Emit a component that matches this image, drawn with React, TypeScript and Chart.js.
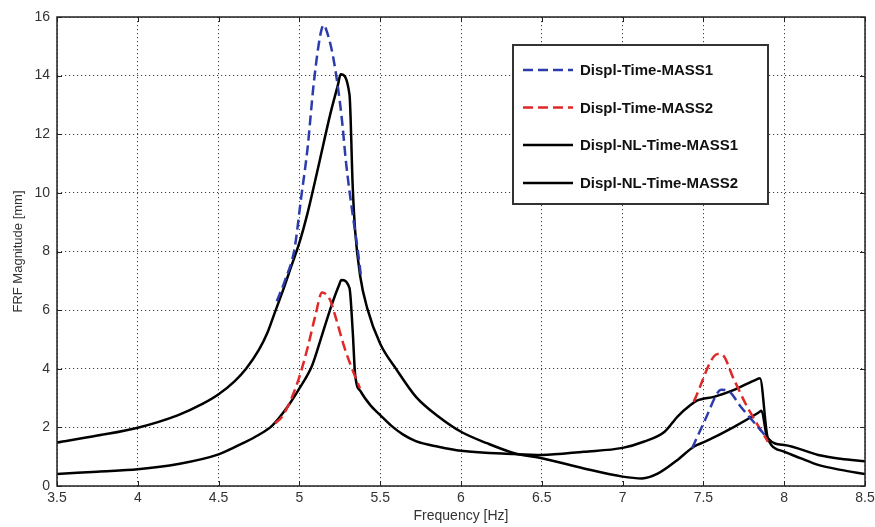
import React, { useEffect, useRef } from 'react';
import { Chart, registerables } from 'chart.js';

Chart.register(...registerables);

// ---- Data ----
const seriesLabels = [
  'Displ-Time-MASS1',
  'Displ-Time-MASS2',
  'Displ-NL-Time-MASS1',
  'Displ-NL-Time-MASS2',
];

// Linear (time) response, mass 1 — only where it departs from the NL curves
const timeMass1Freq = [4.86, 4.91, 4.97, 5.01, 5.05, 5.09, 5.13, 5.15, 5.17, 5.21, 5.26, 5.29, 5.33, 5.36, 5.38, 6.5, 7.43, 7.51, 7.59, 7.61, 7.66, 7.73, 7.81, 7.88];
const timeMass1Mag = [6.3, 7.0, 8.1, 9.8, 11.5, 13.8, 15.4, 15.73, 15.5, 14.6, 12.66, 10.96, 9.25, 8.1, 7.2, null, 1.29, 2.25, 3.2, 3.28, 3.22, 2.71, 2.19, 1.74];

// Linear (time) response, mass 2
const timeMass2Freq = [4.85, 4.9, 4.99, 5.05, 5.1, 5.14, 5.19, 5.22, 5.28, 5.34, 5.375, 6.5, 7.44, 7.59, 7.61, 7.69, 7.77, 7.83, 7.9];
const timeMass2Mag = [2.14, 2.42, 3.56, 4.7, 5.84, 6.6, 6.35, 5.84, 4.7, 3.8, 3.33, null, 2.88, 4.5, 4.5, 3.62, 2.71, 2.14, 1.51];

// Nonlinear response, mass 1
const nlMass1Freq = [3.5, 3.75, 4.0, 4.25, 4.4, 4.5, 4.6, 4.67, 4.75, 4.8, 4.85, 4.9, 4.95, 5.0, 5.05, 5.12, 5.19, 5.24, 5.255, 5.31, 5.33, 5.345, 5.375, 5.42, 5.5, 5.6, 5.72, 5.86, 6.0, 6.16, 6.33, 6.5, 6.76, 7.0, 7.12, 7.22, 7.34, 7.44, 7.51, 7.69, 7.84, 7.86, 7.89, 7.92, 8.0, 8.1, 8.21, 8.35, 8.5];
const nlMass1Mag = [1.48, 1.72, 1.99, 2.42, 2.8, 3.13, 3.58, 4.0, 4.65, 5.2, 5.95, 6.7, 7.5, 8.3, 9.3, 10.96, 12.66, 13.72, 14.05, 13.35, 10.2, 8.7, 7.2, 6.06, 4.85, 3.98, 3.05, 2.37, 1.85, 1.46, 1.12, 0.95, 0.6, 0.32, 0.26, 0.43, 0.89, 1.34, 1.51, 2.02, 2.5, 2.57, 1.74, 1.4, 1.17, 0.95, 0.72, 0.55, 0.41];

// Nonlinear response, mass 2
const nlMass2Freq = [3.5, 3.75, 4.0, 4.25, 4.5, 4.65, 4.75, 4.83, 4.92, 5.0, 5.08, 5.14, 5.2, 5.245, 5.26, 5.31, 5.33, 5.345, 5.38, 5.44, 5.5, 5.57, 5.64, 5.72, 5.86, 6.0, 6.33, 6.5, 6.76, 7.0, 7.13, 7.26, 7.34, 7.42, 7.46, 7.57, 7.69, 7.83, 7.85, 7.9, 8.0, 8.21, 8.35, 8.5];
const nlMass2Mag = [0.41, 0.49, 0.57, 0.75, 1.08, 1.46, 1.75, 2.05, 2.65, 3.33, 4.13, 5.15, 6.18, 6.85, 7.03, 6.75, 5.27, 3.79, 3.22, 2.75, 2.42, 2.05, 1.76, 1.53, 1.34, 1.2, 1.09, 1.06, 1.17, 1.3, 1.51, 1.85, 2.37, 2.76, 2.91, 3.05, 3.28, 3.64, 3.68, 1.63, 1.4, 1.06, 0.93, 0.84];

const xTickValues = [3.5, 4, 4.5, 5, 5.5, 6, 6.5, 7, 7.5, 8, 8.5];
const xTickLabels = ['3.5', '4', '4.5', '5', '5.5', '6', '6.5', '7', '7.5', '8', '8.5'];
const yTickValues = [0, 2, 4, 6, 8, 10, 12, 14, 16];
const yTickLabels = ['0', '2', '4', '6', '8', '10', '12', '14', '16'];

const xTitle = 'Frequency [Hz]';
const yTitle = 'FRF Magnitude [mm]';

function toPoints(freq: number[], mag: (number | null)[]) {
  return freq.map((x, i) => ({ x, y: mag[i] }));
}

const FONT = '"Liberation Sans", Arial, Helvetica, sans-serif';

const framePlugin = {
  id: 'matlabFrame',
  afterDatasetsDraw(chart: any) {
    const { ctx, chartArea } = chart;
    const { left, right, top, bottom } = chartArea;
    const xs = chart.scales.x;
    const ys = chart.scales.y;
    ctx.save();
    ctx.strokeStyle = '#222';
    ctx.lineWidth = 1.5;
    ctx.setLineDash([]);
    ctx.strokeRect(left, top, right - left, bottom - top);
    ctx.lineWidth = 1;
    const tl = 5;
    ctx.beginPath();
    xs.ticks.forEach((t: any) => {
      const px = Math.round(xs.getPixelForValue(t.value)) + 0.5;
      ctx.moveTo(px, bottom);
      ctx.lineTo(px, bottom - tl);
      ctx.moveTo(px, top);
      ctx.lineTo(px, top + tl);
    });
    ys.ticks.forEach((t: any) => {
      const py = Math.round(ys.getPixelForValue(t.value)) + 0.5;
      ctx.moveTo(left, py);
      ctx.lineTo(left + tl, py);
      ctx.moveTo(right, py);
      ctx.lineTo(right - tl, py);
    });
    ctx.stroke();
    ctx.restore();
  },
};

const legendPlugin = {
  id: 'boxLegend',
  afterDraw(chart: any) {
    const { ctx, chartArea } = chart;
    const bx = chartArea.left + 456;
    const by = chartArea.top + 28;
    const bw = 255;
    const bh = 159;
    ctx.save();
    ctx.fillStyle = '#ffffff';
    ctx.fillRect(bx, by, bw, bh);
    ctx.strokeStyle = '#333';
    ctx.lineWidth = 2;
    ctx.setLineDash([]);
    ctx.strokeRect(bx, by, bw, bh);
    const rows = [25, 62.5, 100, 138];
    chart.data.datasets.forEach((ds: any, i: number) => {
      const cy = by + rows[i];
      ctx.save();
      ctx.strokeStyle = ds.borderColor;
      ctx.lineWidth = ds.borderWidth;
      ctx.setLineDash(ds.borderDash || []);
      ctx.beginPath();
      ctx.moveTo(bx + 10, cy);
      ctx.lineTo(bx + 60, cy);
      ctx.stroke();
      ctx.restore();
      ctx.fillStyle = '#111';
      ctx.font = 'bold 15px ' + FONT;
      ctx.textBaseline = 'middle';
      ctx.textAlign = 'left';
      ctx.fillText(ds.label, bx + 67, cy + 1);
    });
    ctx.restore();
  },
};

export default function App() {
  const canvasRef = useRef<HTMLCanvasElement | null>(null);

  useEffect(() => {
    const canvas = canvasRef.current;
    if (!canvas) return;
    const blue = '#2c3cac';
    const red = '#e02828';
    const black = '#000000';
    const common = {
      pointRadius: 0,
      borderWidth: 2.5,
      cubicInterpolationMode: 'monotone',
      spanGaps: false,
    };
    const chart = new Chart(canvas, {
      type: 'line',
      data: {
        datasets: [
          {
            ...common,
            label: seriesLabels[0],
            data: toPoints(timeMass1Freq, timeMass1Mag),
            borderColor: blue,
            borderDash: [10, 5],
          },
          {
            ...common,
            label: seriesLabels[1],
            data: toPoints(timeMass2Freq, timeMass2Mag),
            borderColor: red,
            borderDash: [10, 5],
          },
          {
            ...common,
            label: seriesLabels[2],
            data: toPoints(nlMass1Freq, nlMass1Mag),
            borderColor: black,
          },
          {
            ...common,
            label: seriesLabels[3],
            data: toPoints(nlMass2Freq, nlMass2Mag),
            borderColor: black,
          },
        ] as any,
      },
      options: {
        animation: false,
        responsive: false,
        maintainAspectRatio: false,
        devicePixelRatio: 1,
        layout: { padding: { top: 17, right: 10, left: 0, bottom: 0 } },
        plugins: {
          legend: { display: false },
          tooltip: { enabled: false },
        },
        scales: {
          x: {
            type: 'linear',
            min: 3.5,
            max: 8.5,
            afterBuildTicks(scale: any) {
              scale.ticks = xTickValues.map((v) => ({ value: v }));
            },
            afterFit(scale: any) {
              scale.height = 41;
              scale.paddingLeft = 0;
              scale.paddingRight = 0;
            },
            ticks: {
              autoSkip: false,
              maxRotation: 0,
              minRotation: 0,
              padding: 4,
              color: '#333',
              font: { family: FONT, size: 14 },
              callback: (value: any) => {
                const idx = xTickValues.indexOf(Number(value));
                return idx >= 0 ? xTickLabels[idx] : '';
              },
            },
            grid: {
              color: '#444',
              lineWidth: 1,
              drawTicks: false,
            },
            border: { display: false, dash: [1.2, 2.8] },
            title: {
              display: true,
              text: xTitle,
              color: '#333',
              font: { family: FONT, size: 14 },
              padding: { top: 0, bottom: 2 },
            },
          },
          y: {
            type: 'linear',
            min: 0,
            max: 16,
            afterBuildTicks(scale: any) {
              scale.ticks = yTickValues.map((v) => ({ value: v }));
            },
            afterFit(scale: any) {
              scale.width = 57;
              scale.paddingTop = 0;
              scale.paddingBottom = 0;
            },
            ticks: {
              autoSkip: false,
              padding: 7,
              color: '#333',
              font: { family: FONT, size: 14 },
              callback: (value: any) => {
                const idx = yTickValues.indexOf(Number(value));
                return idx >= 0 ? yTickLabels[idx] : '';
              },
            },
            grid: {
              color: '#444',
              lineWidth: 1,
              drawTicks: false,
            },
            border: { display: false, dash: [1.2, 2.8] },
            title: {
              display: true,
              text: yTitle,
              color: '#333',
              font: { family: FONT, size: 13 },
              padding: { top: 11, bottom: 0 },
            },
          },
        },
      },
      plugins: [framePlugin, legendPlugin],
    });
    return () => chart.destroy();
  }, []);

  return (
    <div style={{ position: 'fixed', left: 0, top: 0, width: 875, height: 527, background: '#fff' }}>
      <canvas ref={canvasRef} width={875} height={527} style={{ display: 'block', width: 875, height: 527 }} />
    </div>
  );
}
